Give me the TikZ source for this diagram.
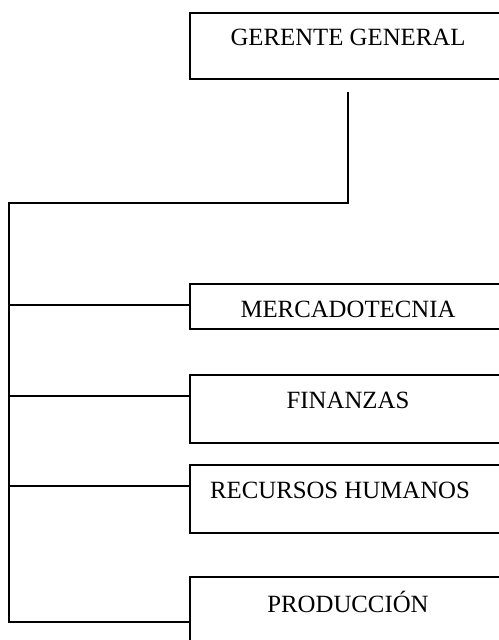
\documentclass[tikz,border=0pt]{standalone}
\usepackage{fontspec}
\setmainfont{Liberation Serif}
\begin{document}
\begin{tikzpicture}[x=0.5pt, y=-0.5pt, line width=1pt,
    box/.style={draw, anchor=north west, inner sep=0pt, minimum width=158pt, text height=16.5pt, font=\fontsize{12.4}{14}\selectfont}]
   \useasboundingbox (0,0) rectangle (498,640);
   \node[box, text depth=16.5pt] (G) at (189,12) {GERENTE GENERAL};
   \node[box, text depth=6pt] (M) at (189,283) {MERCADOTECNIA};
   \node[box, text depth=17.5pt] (F) at (189,374) {FINANZAS};
   \node[box, text depth=17.5pt] (R) at (189,464) {\hspace*{-8pt}RECURSOS HUMANOS};
   \node[box, text height=17.5pt, text depth=16pt] (P) at (189,576) {PRODUCCIÓN};
   \coordinate (G1) at (348,92);
   \coordinate (T) at (9,203);
   \coordinate (P1) at ([yshift=-23pt]P.north west);
   \draw (G1) |- (T) |- (P1);
   \foreach \n in {M,F,R} {
      \coordinate (\n1) at ([yshift=-11pt]\n.north west);
      \draw (T |- \n1) -- (\n1);
   }
\end{tikzpicture}
\end{document}
